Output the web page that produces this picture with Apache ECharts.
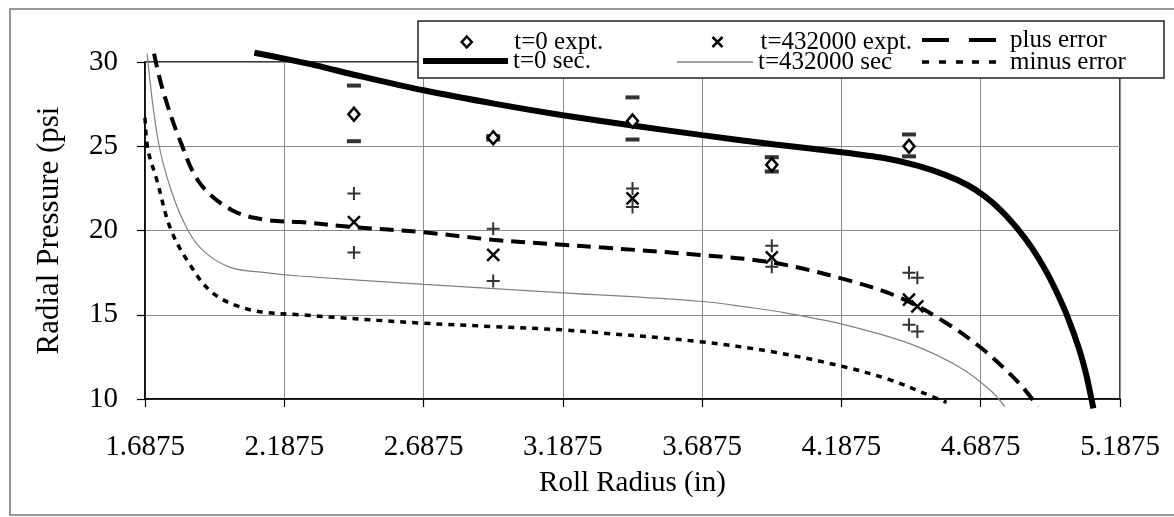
<!DOCTYPE html>
<html>
<head>
<meta charset="utf-8">
<script src="https://cdn.jsdelivr.net/npm/echarts@6/dist/echarts.min.js"></script>
<style>
  html, body { margin: 0; padding: 0; background: #fff; }
  #chart { width: 1174px; height: 517px; }
</style>
</head>
<body>
<div id="chart"></div>
<script>
// Inner roll radius: first tick of the radius axis
const R0 = 1.6875;
const xTickStep = 0.5;

// Model curves: roll radius (in) vs radial pressure (psi)
const t0SecRadius = [2.08, 2.1875, 2.3, 2.45, 2.6875, 2.95, 3.1875, 3.45, 3.6875, 3.95, 4.1875, 4.34, 4.46, 4.56, 4.64, 4.70, 4.76, 4.82, 4.87, 4.92, 4.96, 5.0, 5.04, 5.067, 5.085, 5.092];
const t0SecPressure = [30.55, 30.2, 29.8, 29.2, 28.32, 27.5, 26.84, 26.2, 25.66, 25.1, 24.65, 24.3, 23.85, 23.3, 22.7, 22.05, 21.2, 20.1, 19.0, 17.65, 16.35, 14.85, 13.0, 11.4, 10.0, 9.45];

const tEndSecRadius = [1.695, 1.734, 1.781, 1.842, 1.903, 1.996, 2.12, 2.24, 2.69, 3.19, 3.68, 3.85, 3.99, 4.2, 4.43, 4.61, 4.72, 4.774];
const tEndSecPressure = [30.5, 25.4, 22.4, 20.0, 18.7, 17.8, 17.5, 17.3, 16.8, 16.3, 15.8, 15.45, 15.1, 14.4, 13.3, 11.9, 10.55, 9.55];

const plusErrRadius = [1.72, 1.752, 1.813, 1.885, 2.0, 2.125, 2.244, 2.434, 2.685, 2.936, 3.188, 3.32, 3.68, 3.94, 4.2, 4.4, 4.565, 4.684, 4.767, 4.838, 4.893];
const plusErrPressure = [30.5, 28.3, 25.35, 22.8, 21.2, 20.62, 20.5, 20.2, 19.9, 19.45, 19.15, 19.0, 18.55, 18.1, 17.1, 16.0, 14.5, 13.1, 11.9, 10.7, 9.55];

const minusErrRadius = [1.6875, 1.698, 1.73, 1.777, 1.838, 1.93, 2.064, 2.244, 2.685, 2.936, 3.188, 3.32, 3.68, 3.94, 4.2, 4.36, 4.48, 4.565];
const minusErrPressure = [26.7, 24.8, 23.0, 20.2, 18.25, 16.3, 15.3, 15.0, 14.5, 14.3, 14.1, 13.93, 13.4, 12.8, 11.9, 11.15, 10.37, 9.8];

// Measurements at t = 0 with their error limits
const t0ExptRadius = [2.4375, 2.9375, 3.4375, 3.9375, 4.43];
const t0ExptPressure = [26.9, 25.5, 26.5, 23.9, 25.0];
const t0ExptUpper = [28.6, 25.6, 27.9, 24.35, 25.7];
const t0ExptLower = [25.3, 25.4, 25.4, 23.5, 24.4];

// Measurements at t = 432000 s with their error limits
const tEndExptRadius = [2.4375, 2.9375, 3.4375, 3.9375, 4.43, 4.46];
const tEndExptPressure = [20.5, 18.55, 21.9, 18.4, 15.9, 15.5];
const tEndExptUpper = [22.2, 20.1, 22.5, 19.1, 17.5, 17.2];
const tEndExptLower = [18.7, 17.0, 21.4, 17.85, 14.4, 14.0];

const FONT = '"Liberation Serif", "Times New Roman", serif';

// Radius axis runs from R0, so points are placed by their distance past it
const pts = (xs, ys) => xs.map((x, i) => [x - R0, ys[i]]);
const bars = (xs, up, lo) => pts(xs, up).concat(pts(xs, lo));

const crossPath = 'path://M0,0L10,10M10,0L0,10';
const plusPath = 'path://M5,0L5,10M0,5L10,5';

// Legend keys: marker centred over a wide key, or a drawn line sample
const keyDiamond = 'path://M0,0M85,12M42.5,0.5L47.5,6L42.5,11.5L37.5,6Z';
const keyCross = 'path://M0,0M76,12M33,1L43,11M43,1L33,11';
const keyPlusErr = 'path://M0,0L27,0L27,4L0,4ZM47,0L74,0L74,4L47,4Z';
const keyMinusErr = 'path://M0,0L7,0L7,3.5L0,3.5ZM17,0L24,0L24,3.5L17,3.5ZM34,0L41,0L41,3.5L34,3.5ZM50,0L57,0L57,3.5L50,3.5ZM67,0L74,0L74,3.5L67,3.5Z';

function legendAt(name, icon, left, cy, w, h, extra) {
  return Object.assign({
    data: [{ name: name, icon: icon }], left: left, top: cy - 13, orient: 'horizontal',
    padding: 0, itemWidth: w, itemHeight: h, itemGap: 0, z: 20,
    selectedMode: false,
    textStyle: { fontFamily: FONT, fontSize: 25, color: '#000', lineHeight: 26 }
  }, extra || {});
}

const solidKey = color => ({ itemStyle: { color: color, borderWidth: 0, opacity: 1 } });
const shiftedText = { fontFamily: FONT, fontSize: 25, color: '#000', lineHeight: 26, padding: [0, 0, 0, 9] };

const chart = echarts.init(document.getElementById('chart'), null, { renderer: 'canvas' });

chart.setOption({
  animation: false,
  backgroundColor: '#fff',
  grid: {
    left: 145, right: 54, top: 62, bottom: 118,
    show: true, borderColor: '#000', borderWidth: 1.5, backgroundColor: 'transparent'
  },
  legend: [
    legendAt('t=0 expt.', keyDiamond, 423, 42, 85, 12,
      { itemStyle: { color: '#fff', borderColor: '#000', borderWidth: 2.5 } }),
    legendAt('t=0 sec.', 'rect', 423, 61, 85, 6, solidKey('#000')),
    legendAt('t=432000 expt.', keyCross, 677, 42, 76, 12,
      { itemStyle: { color: 'none', borderColor: '#000', borderWidth: 2.5 } }),
    legendAt('t=432000 sec', 'rect', 677, 62, 76, 1.3, solidKey('#808080')),
    legendAt('plus error', keyPlusErr, 922, 40, 74, 4, Object.assign(solidKey('#000'), { textStyle: shiftedText })),
    legendAt('minus error', keyMinusErr, 922, 62, 74, 3.5, Object.assign(solidKey('#000'), { textStyle: shiftedText }))
  ],
  xAxis: {
    type: 'value', min: 0, max: 3.5, interval: xTickStep,
    name: 'Roll Radius (in)', nameLocation: 'middle', nameGap: 70,
    nameTextStyle: { fontFamily: FONT, fontSize: 29, color: '#000' },
    axisLine: { show: true, onZero: false, lineStyle: { color: '#000', width: 1.5 } },
    axisTick: { show: true, inside: false, length: 8, lineStyle: { color: '#000', width: 1.2 } },
    axisLabel: {
      margin: 34, fontFamily: FONT, fontSize: 29, color: '#000',
      formatter: v => (v + R0).toFixed(4)
    },
    splitLine: { show: true, lineStyle: { color: '#8a8a8a', width: 1 } }
  },
  yAxis: {
    type: 'value', min: 10, max: 30, interval: 5,
    name: 'Radial Pressure (psi', nameLocation: 'middle', nameGap: 80,
    nameTextStyle: { fontFamily: FONT, fontSize: 31, color: '#000' },
    axisLine: { show: true, onZero: false, lineStyle: { color: '#000', width: 1.5 } },
    axisTick: { show: true, inside: false, length: 8, lineStyle: { color: '#000', width: 1.2 } },
    axisLabel: { margin: 27, fontFamily: FONT, fontSize: 29, color: '#000' },
    splitLine: { show: true, lineStyle: { color: '#8a8a8a', width: 1 } }
  },
  graphic: [
    {
      type: 'rect', silent: true, z: -10,
      shape: { x: 10, y: 9, width: 1200, height: 506 },
      style: { fill: 'none', stroke: '#777', lineWidth: 1.5 }
    },
    {
      type: 'rect', silent: true, z: 10,
      shape: { x: 418, y: 21, width: 746, height: 57 },
      style: { fill: '#fff', stroke: '#222', lineWidth: 1.5 }
    }
  ],
  series: [
    {
      name: 't=0 expt.', type: 'scatter', z: 6,
      symbol: 'diamond', symbolSize: [11, 13],
      itemStyle: { color: '#fff', borderColor: '#000', borderWidth: 2.5, opacity: 1 },
      data: pts(t0ExptRadius, t0ExptPressure)
    },
    {
      name: 't=0 sec.', type: 'line', symbol: 'none', smooth: 0.3, clip: false, z: 4,
      itemStyle: { color: '#000' },
      lineStyle: { color: '#000', width: 6 },
      data: pts(t0SecRadius, t0SecPressure)
    },
    {
      name: 't=432000 expt.', type: 'scatter', z: 6,
      symbol: crossPath, symbolSize: 12,
      itemStyle: { color: 'none', borderColor: '#000', borderWidth: 2.5, opacity: 1 },
      data: pts(tEndExptRadius, tEndExptPressure)
    },
    {
      name: 't=432000 sec', type: 'line', symbol: 'none', smooth: 0.35, clip: false, z: 3,
      itemStyle: { color: '#808080' },
      lineStyle: { color: '#808080', width: 1.2 },
      data: pts(tEndSecRadius, tEndSecPressure)
    },
    {
      name: 'plus error', type: 'line', symbol: 'none', smooth: 0.35, clip: false, z: 3,
      itemStyle: { color: '#000' },
      lineStyle: { color: '#000', width: 4, type: [14, 8] },
      data: pts(plusErrRadius, plusErrPressure)
    },
    {
      name: 'minus error', type: 'line', symbol: 'none', smooth: 0.35, clip: false, z: 3,
      itemStyle: { color: '#000' },
      lineStyle: { color: '#000', width: 3.5, type: [6, 6] },
      data: pts(minusErrRadius, minusErrPressure)
    },
    {
      name: 't=0 limits', type: 'scatter', z: 5,
      symbol: 'rect', symbolSize: [14, 4],
      itemStyle: { color: '#000' },
      data: bars(t0ExptRadius, t0ExptUpper, t0ExptLower)
    },
    {
      name: 't=432000 limits', type: 'scatter', z: 5,
      symbol: plusPath, symbolSize: 13,
      itemStyle: { color: 'none', borderColor: '#000', borderWidth: 2 },
      data: bars(tEndExptRadius, tEndExptUpper, tEndExptLower)
    }
  ]
});
</script>
</body>
</html>
